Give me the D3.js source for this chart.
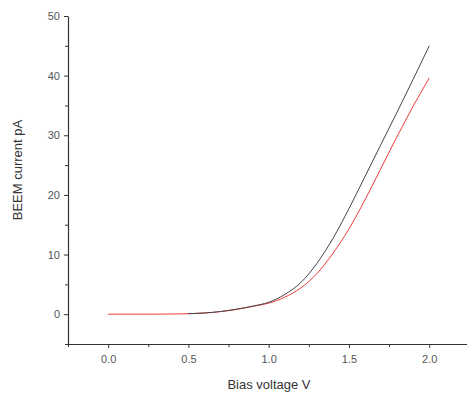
<!DOCTYPE html>
<html>
<head>
<meta charset="utf-8">
<script src="https://cdn.jsdelivr.net/npm/d3@7"></script>
<style>
  html, body { margin: 0; padding: 0; background: #fff; }
  svg { display: block; font-family: "Liberation Sans", Arial, sans-serif; }
</style>
</head>
<body>
<svg id="chart" width="467" height="394"></svg>
<script>
// Data
const blackVoltage = [0.5, 0.6, 0.7, 0.8, 0.9, 1.0, 1.1, 1.2, 1.3, 1.4, 1.5, 1.6, 1.7, 1.8, 1.9, 2.0];
const blackCurrent = [0.08, 0.2, 0.45, 0.85, 1.35, 2.0, 3.3, 5.3, 8.5, 12.7, 17.7, 23.1, 28.5, 33.9, 39.4, 45.0];
const redVoltage = [0.0, 0.1, 0.2, 0.3, 0.4, 0.5, 0.6, 0.7, 0.8, 0.9, 1.0, 1.1, 1.2, 1.3, 1.4, 1.5, 1.6, 1.7, 1.8, 1.9, 2.0];
const redCurrent = [0, 0, 0, 0.01, 0.03, 0.08, 0.2, 0.43, 0.8, 1.3, 1.85, 2.85, 4.4, 6.8, 10.2, 14.3, 19.2, 24.5, 29.8, 34.9, 39.6];
const xMajorTicks = [0.0, 0.5, 1.0, 1.5, 2.0];
const xMinorTicks = [-0.25, 0.25, 0.75, 1.25, 1.75, 2.25];
const yMajorTicks = [0, 10, 20, 30, 40, 50];
const yMinorTicks = [-5, 5, 15, 25, 35, 45];
const xLabel = "Bias voltage V";
const yLabel = "BEEM current pA";

const svg = d3.select("#chart");
const x = d3.scaleLinear().domain([-0.25, 2.25]).range([68, 469.4]);
const y = d3.scaleLinear().domain([-5, 50]).range([344, 16]);

const axisColor = "#333";
const labelColor = "#555";

// X axis
const gx = svg.append("g").attr("transform", `translate(0,${y(-5)})`);
gx.call(d3.axisBottom(x).tickValues(xMajorTicks).tickSize(4).tickSizeOuter(0).tickFormat(d3.format(".1f")));
gx.append("g").call(d3.axisBottom(x).tickValues(xMinorTicks).tickSize(3).tickSizeOuter(0).tickFormat(""))
  .select(".domain").remove();
gx.selectAll(".domain").attr("stroke", axisColor).attr("stroke-width", 1.2);
gx.selectAll(".tick line").attr("stroke", axisColor);
gx.selectAll(".tick text").attr("fill", labelColor).attr("font-size", 11)
  .attr("font-family", "Liberation Sans, Arial, sans-serif").attr("dy", "1.05em");

// Y axis
const gy = svg.append("g").attr("transform", `translate(${x(-0.25)},0)`);
gy.call(d3.axisLeft(y).tickValues(yMajorTicks).tickSize(4).tickSizeOuter(0).tickFormat(d3.format("d")));
gy.append("g").call(d3.axisLeft(y).tickValues(yMinorTicks).tickSize(3).tickSizeOuter(0).tickFormat(""))
  .select(".domain").remove();
gy.selectAll(".domain").attr("stroke", axisColor).attr("stroke-width", 1.2);
gy.selectAll(".tick line").attr("stroke", axisColor);
gy.selectAll(".tick text").attr("fill", labelColor).attr("font-size", 11)
  .attr("font-family", "Liberation Sans, Arial, sans-serif").attr("x", -8);

// Lines
const line = d3.line().x(d => x(d[0])).y(d => y(d[1])).curve(d3.curveMonotoneX);
svg.append("path")
  .datum(redVoltage.map((v, i) => [v, redCurrent[i]]))
  .attr("fill", "none").attr("stroke", "#f03a3a").attr("stroke-width", 1).attr("d", line);
svg.append("path")
  .datum(blackVoltage.map((v, i) => [v, blackCurrent[i]]))
  .attr("fill", "none").attr("stroke", "#444").attr("stroke-width", 1).attr("d", line);

// Axis titles
svg.append("text").attr("x", 269).attr("y", 389).attr("text-anchor", "middle")
  .attr("font-size", 13).attr("fill", "#333").text(xLabel);
svg.append("text").attr("transform", "translate(22,170) rotate(-90)").attr("text-anchor", "middle")
  .attr("font-size", 13).attr("fill", "#333").text(yLabel);
</script>
</body>
</html>
